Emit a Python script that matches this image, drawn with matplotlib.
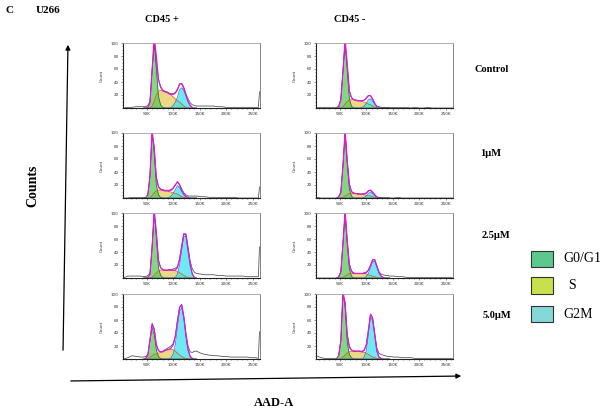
import numpy as np
import matplotlib
matplotlib.use("Agg")
import matplotlib.pyplot as plt
from matplotlib.ticker import MultipleLocator
from matplotlib.patches import FancyArrowPatch, Rectangle

# x positions (in K units of AAD-A) of the fitted model points and of the raw histogram
fit_x = [44, 48, 52, 56, 60, 64, 68, 72, 76, 80, 84, 88, 92, 96, 100,
         104, 108, 112, 116, 120, 124, 128, 132, 136, 140, 144]
raw_x = [6, 14, 22, 30, 38] + fit_x + [152, 160, 168, 176, 184, 192, 200, 208,
                                       216, 224, 232, 240, 248, 256, 261, 263]

# Control, CD45+
ctrl_pos_g1 = [0, 0, 1, 8, 55, 100, 60, 18, 5, 1, 0, 0, 0, 0, 0, 0, 0, 0, 0, 0, 0, 0, 0, 0, 0, 0]
ctrl_pos_s = [0, 0, 0, 0, 3, 10, 20, 26, 27, 26, 25, 24, 22, 20, 17, 14, 11, 9, 6, 3, 1, 0, 0, 0, 0, 0]
ctrl_pos_g2 = [0, 0, 0, 0, 0, 0, 0, 0, 0, 0, 0, 0, 0, 1, 4, 9, 17, 28, 31, 27, 19, 10, 4, 1, 0, 0]
ctrl_pos_raw = [0, 1, 1, 2, 2,
                2, 2, 4, 10, 58, 100, 72, 44, 33, 28, 26, 25, 23, 22, 22, 24, 29, 37, 38, 32, 22, 14, 8, 5, 4, 3,
                3, 3, 3, 3, 2, 2, 1, 1, 1, 1, 1, 1, 1, 1, 1, 25]

# Control, CD45-
ctrl_neg_g1 = [0, 2, 12, 55, 100, 58, 14, 3, 0, 0, 0, 0, 0, 0, 0, 0, 0, 0, 0, 0, 0, 0, 0, 0, 0, 0]
ctrl_neg_s = [0, 0, 0, 2, 6, 10, 12, 13, 13, 12, 11, 11, 10, 9, 8, 6, 5, 3, 1, 0, 0, 0, 0, 0, 0, 0]
ctrl_neg_g2 = [0, 0, 0, 0, 0, 0, 0, 0, 0, 0, 0, 0, 1, 3, 7, 13, 14, 11, 6, 2, 0, 0, 0, 0, 0, 0]
ctrl_neg_raw = [1, 1, 1, 1, 1,
                1, 3, 14, 57, 100, 66, 26, 16, 13, 12, 12, 11, 11, 12, 15, 19, 19, 14, 7, 3, 2, 1, 1, 1, 1, 1,
                1, 1, 1, 1, 0, 1, 0, 0, 1, 0, 0, 0, 0, 0, 0, 0]

# 1uM, CD45+
d1_pos_g1 = [0, 0, 4, 32, 100, 68, 20, 5, 1, 0, 0, 0, 0, 0, 0, 0, 0, 0, 0, 0, 0, 0, 0, 0, 0, 0]
d1_pos_s = [0, 0, 0, 1, 4, 8, 11, 12, 12, 12, 11, 11, 10, 9, 8, 7, 6, 4, 2, 1, 0, 0, 0, 0, 0, 0]
d1_pos_g2 = [0, 0, 0, 0, 0, 0, 0, 0, 0, 0, 0, 0, 1, 3, 7, 13, 19, 16, 10, 5, 2, 1, 0, 0, 0, 0]
d1_pos_raw = [0, 0, 1, 1, 1,
              1, 1, 6, 35, 100, 78, 32, 18, 14, 13, 12, 12, 12, 13, 16, 20, 25, 21, 14, 8, 5, 3, 3, 3, 3, 3,
              2, 2, 1, 1, 1, 1, 1, 1, 1, 0, 0, 0, 0, 0, 0, 17]

# 1uM, CD45-
d1_neg_g1 = [0, 2, 8, 48, 100, 52, 14, 3, 0, 0, 0, 0, 0, 0, 0, 0, 0, 0, 0, 0, 0, 0, 0, 0, 0, 0]
d1_neg_s = [0, 0, 0, 1, 3, 5, 7, 7, 7, 7, 6, 6, 6, 5, 4, 4, 3, 2, 1, 0, 0, 0, 0, 0, 0, 0]
d1_neg_g2 = [0, 0, 0, 0, 0, 0, 0, 0, 0, 0, 0, 0, 0, 1, 3, 7, 9, 7, 4, 1, 0, 0, 0, 0, 0, 0]
d1_neg_raw = [1, 0, 0, 0, 0,
              0, 2, 10, 50, 100, 58, 22, 10, 8, 7, 7, 6, 6, 7, 8, 11, 12, 9, 5, 2, 1, 1, 0, 0, 0, 0,
              0, 1, 0, 0, 0, 0, 0, 0, 0, 0, 0, 0, 0, 0, 0, 0]

# 2.5uM, CD45+
d25_pos_g1 = [0, 0, 1, 5, 45, 100, 62, 16, 4, 1, 0, 0, 0, 0, 0, 0, 0, 0, 0, 0, 0, 0, 0, 0, 0, 0]
d25_pos_s = [0, 0, 0, 0, 1, 4, 8, 11, 12, 12, 12, 12, 12, 12, 12, 11, 10, 8, 6, 4, 2, 1, 0, 0, 0, 0]
d25_pos_g2 = [0, 0, 0, 0, 0, 0, 0, 0, 0, 0, 0, 0, 0, 0, 0, 1, 6, 20, 42, 64, 64, 42, 20, 6, 1, 0]
d25_pos_raw = [0, 3, 3, 3, 3,
               2, 2, 4, 8, 48, 100, 70, 28, 16, 13, 12, 12, 13, 13, 14, 15, 18, 30, 50, 68, 68, 48, 26, 14, 9, 7,
               6, 5, 5, 5, 4, 4, 3, 3, 3, 3, 3, 2, 2, 2, 2, 48]

# 2.5uM, CD45-
d25_neg_g1 = [0, 2, 9, 52, 100, 52, 14, 3, 0, 0, 0, 0, 0, 0, 0, 0, 0, 0, 0, 0, 0, 0, 0, 0, 0, 0]
d25_neg_s = [0, 0, 0, 1, 3, 5, 7, 7, 7, 7, 7, 7, 7, 7, 6, 5, 4, 3, 2, 1, 0, 0, 0, 0, 0, 0]
d25_neg_g2 = [0, 0, 0, 0, 0, 0, 0, 0, 0, 0, 0, 0, 0, 0, 2, 7, 15, 25, 26, 17, 8, 3, 1, 0, 0, 0]
d25_neg_raw = [0, 0, 0, 0, 0,
               0, 2, 10, 54, 100, 58, 22, 11, 8, 7, 7, 7, 7, 8, 9, 12, 19, 28, 28, 19, 10, 6, 5, 4, 4, 3,
               3, 2, 2, 1, 1, 1, 1, 1, 1, 1, 1, 1, 1, 1, 1, 1]

# 5.0uM, CD45+
d5_pos_g1 = [0, 1, 5, 26, 48, 38, 14, 4, 1, 0, 0, 0, 0, 0, 0, 0, 0, 0, 0, 0, 0, 0, 0, 0, 0, 0]
d5_pos_s = [0, 0, 1, 3, 5, 7, 8, 9, 10, 11, 13, 14, 15, 15, 14, 12, 9, 6, 4, 2, 1, 0, 0, 0, 0, 0]
d5_pos_g2 = [0, 0, 0, 0, 0, 0, 0, 0, 0, 0, 0, 0, 0, 2, 8, 23, 49, 73, 79, 62, 35, 14, 4, 1, 0, 0]
d5_pos_raw = [0, 2, 5, 4, 3,
              3, 4, 7, 30, 55, 47, 22, 13, 11, 12, 14, 16, 18, 20, 24, 36, 60, 80, 84, 66, 40, 20, 11, 10, 12, 12,
              9, 7, 6, 5, 5, 4, 4, 3, 3, 3, 3, 3, 2, 2, 1, 42]

# 5.0uM, CD45-
d5_neg_g1 = [0, 5, 28, 100, 80, 26, 7, 2, 0, 0, 0, 0, 0, 0, 0, 0, 0, 0, 0, 0, 0, 0, 0, 0, 0, 0]
d5_neg_s = [0, 0, 1, 3, 6, 9, 11, 12, 12, 12, 12, 12, 11, 10, 9, 7, 5, 3, 2, 1, 0, 0, 0, 0, 0, 0]
d5_neg_g2 = [0, 0, 0, 0, 0, 0, 0, 0, 0, 0, 0, 0, 0, 3, 12, 36, 64, 60, 36, 12, 3, 1, 0, 0, 0, 0]
d5_neg_raw = [5, 2, 1, 1, 1,
              1, 6, 28, 100, 87, 40, 20, 14, 12, 12, 12, 12, 12, 14, 22, 44, 69, 63, 40, 17, 9, 7, 6, 5, 4, 4,
              3, 3, 2, 2, 2, 1, 1, 1, 1, 1, 1, 1, 1, 1, 1, 1]

col_titles = ["CD45 +", "CD45 -"]
row_labels = ["Control", "1\u00b5M", "2.5\u00b5M", "5.0\u00b5M"]
phase_names = ["G0/G1", "S", "G2M"]
x_ticks = [50, 100, 150, 200, 250]
x_tick_labels = ["50K", "100K", "150K", "200K", "250K"]
y_ticks = [20, 40, 60, 80, 100]

panels = [
    [(ctrl_pos_raw, ctrl_pos_g1, ctrl_pos_s, ctrl_pos_g2), (ctrl_neg_raw, ctrl_neg_g1, ctrl_neg_s, ctrl_neg_g2)],
    [(d1_pos_raw, d1_pos_g1, d1_pos_s, d1_pos_g2), (d1_neg_raw, d1_neg_g1, d1_neg_s, d1_neg_g2)],
    [(d25_pos_raw, d25_pos_g1, d25_pos_s, d25_pos_g2), (d25_neg_raw, d25_neg_g1, d25_neg_s, d25_neg_g2)],
    [(d5_pos_raw, d5_pos_g1, d5_pos_s, d5_pos_g2), (d5_neg_raw, d5_neg_g1, d5_neg_s, d5_neg_g2)],
]

W, H = 600, 413
fig = plt.figure(figsize=(6, 4.13), dpi=100)
fig.patch.set_facecolor("white")

def fx(px):
    return px / W

def fy(py):
    return 1 - py / H

serif = "Liberation Serif"
g1_col, s_col, g2_col = "#4fc64f", "#e6cc5c", "#2fe2f2"

col_left = [123, 316]   # pixel left edge of each column of panels
col_width = 137
row_top = [43, 133, 213, 294]
row_height = 65

for r in range(4):
    for c in range(2):
        raw, g1, s, g2 = [np.array(a, dtype=float) for a in panels[r][c]]
        ax = fig.add_axes([fx(col_left[c]), fy(row_top[r] + row_height),
                           fx(col_width), row_height / H])
        xf = np.array(fit_x, dtype=float)
        ax.fill_between(xf, s, color=s_col, alpha=0.75, lw=0)
        ax.fill_between(xf, g1, color=g1_col, alpha=0.7, lw=0)
        ax.fill_between(xf, g2, color=g2_col, alpha=0.7, lw=0)
        ax.plot(xf, g1, color="#2e5e2e", lw=0.5)
        ax.plot(xf, s, color="#d8501c", lw=0.5)
        ax.plot(xf, g2, color="#2a6cc8", lw=0.5)
        ax.plot(raw_x, raw, color="#4a4a4a", lw=0.55)
        total = g1 + s + g2
        model = np.where(total > 0.5, total, np.nan)
        ax.plot(xf, model, color="#e018e0", lw=0.9)

        ax.set_xlim(5, 264)
        ax.set_ylim(0, 100)
        ax.set_xticks(x_ticks)
        ax.set_xticklabels(x_tick_labels)
        ax.set_yticks(y_ticks)
        ax.xaxis.set_minor_locator(MultipleLocator(10))
        ax.yaxis.set_minor_locator(MultipleLocator(5))
        ax.tick_params(which="both", labelsize=3, length=1.6, width=0.4,
                       colors="#333333", pad=1.5)
        ax.tick_params(which="minor", length=0.9)
        ax.set_ylabel("Count", fontsize=3, color="#333333", labelpad=5)
        for side in ["left", "bottom"]:
            ax.spines[side].set_color("#222222")
            ax.spines[side].set_linewidth(0.8)
        ax.spines["top"].set_color("#a0a0a0")
        ax.spines["right"].set_color("#707070")
        ax.spines["top"].set_linewidth(0.6)
        ax.spines["right"].set_linewidth(0.6)

bold = dict(family=serif, weight="bold", color="black")
fig.text(fx(5), fy(10.5), "C", fontsize=8, ha="left", va="center", **bold)
fig.text(fx(36), fy(10.5), "U266", fontsize=8, ha="left", va="center", **bold)
for title, cx in zip(col_titles, [162, 350]):
    fig.text(fx(cx), fy(19), title, fontsize=7.5, ha="center", va="center", **bold)
for label, (cx, cy) in zip(row_labels, [(492, 70), (491, 154), (496, 235), (497, 315)]):
    fig.text(fx(cx), fy(cy), label, fontsize=7.5, ha="center", va="center", **bold)
fig.text(fx(33), fy(186), "Counts", fontsize=10, rotation=90, ha="center", va="center", **bold)
fig.text(fx(274), fy(403), "AAD-A", fontsize=9, ha="center", va="center", **bold)

# axis arrows
fig.add_artist(FancyArrowPatch((fx(63), fy(353)), (fx(68), fy(42)), transform=fig.transFigure,
                               arrowstyle="-|>", mutation_scale=7, lw=0.9, color="black"))
fig.add_artist(FancyArrowPatch((fx(68), fy(381)), (fx(464), fy(376)), transform=fig.transFigure,
                               arrowstyle="-|>", mutation_scale=7, lw=0.9, color="black"))

# legend
legend_cols = ["#5cc98c", "#c8e04c", "#84d8d8"]
for name, colr, (y0, y1) in zip(phase_names, legend_cols, [(251, 267), (277, 294), (306, 322)]):
    fig.add_artist(Rectangle((fx(531), fy(y1)), fx(22), (y1 - y0) / H, transform=fig.transFigure,
                             facecolor=colr, edgecolor="#333333", lw=0.8))
    tx = 572 if name == "S" else 563
    fig.text(fx(tx), fy((y0 + y1) / 2), name, fontsize=10, family=serif,
             ha="center" if name == "S" else "left", va="center")

fig.savefig("out.png", dpi=100)
